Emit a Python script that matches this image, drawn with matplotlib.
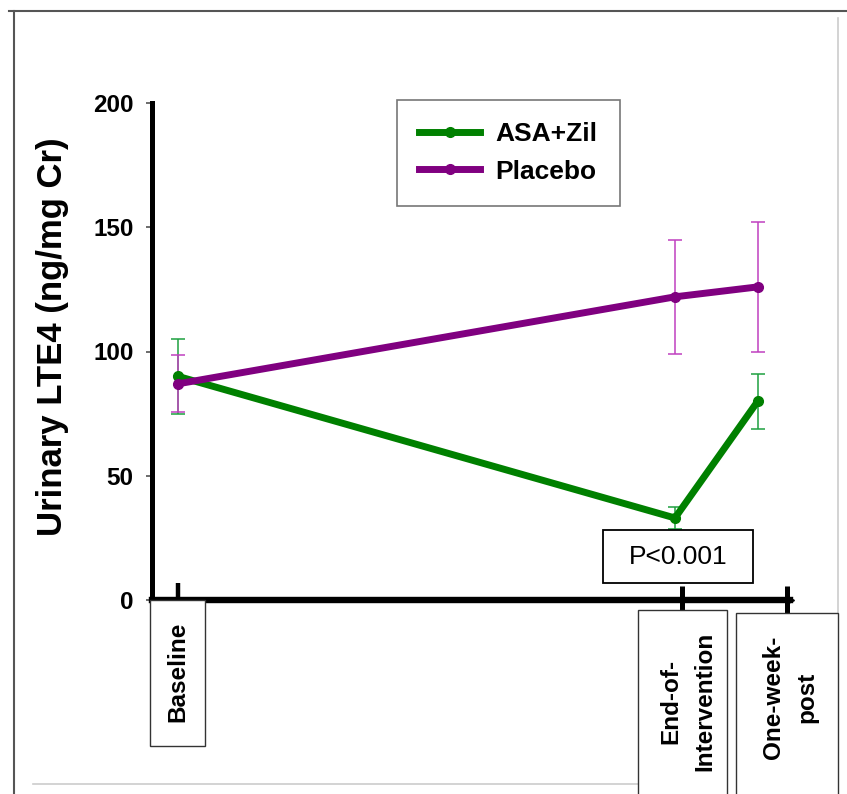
import matplotlib
matplotlib.use('Agg')

import matplotlib.pyplot as plt
from matplotlib.patches import Rectangle
from matplotlib.lines import Line2D

plt.rcParams['font.family'] = ['Liberation Sans', 'DejaVu Sans']

# data
timepoints = ['Baseline', 'End-of-\nIntervention', 'One-week-\npost']
x_pos = [0, 6, 7]
asa_zil_mean = [90, 33, 80]
asa_zil_err = [15, 4.5, 11]
placebo_mean = [87, 122, 126]
placebo_err = [11.5, 23, 26]
y_ticks = [0, 50, 100, 150, 200]

W, H = 847, 794
fig = plt.figure(figsize=(W / 100, H / 100), dpi=100)


def fx(px):
    return px / W


def fy(py):
    return 1 - py / H


# outer frame lines
fig.add_artist(Line2D([fx(9), 1], [fy(11), fy(11)], color='#555555', lw=1.5))
fig.add_artist(Line2D([fx(14), fx(14)], [fy(11), 0], color='#555555', lw=1.5))
fig.add_artist(Line2D([fx(838), fx(838)], [fy(18), fy(613)], color='#cccccc', lw=1.2))
fig.add_artist(Line2D([fx(33), fx(640)], [fy(784), fy(784)], color='#cccccc', lw=1.2))

ax = fig.add_axes([fx(152), fy(600), fx(790) - fx(152), fy(103) - fy(600)])

green, purple = '#008000', '#800080'
green_err, purple_err = '#1ea040', '#c040c0'

ax.errorbar(x_pos, asa_zil_mean, yerr=asa_zil_err, fmt='none', ecolor=green_err,
            elinewidth=1.1, capsize=4.7, capthick=1.1, zorder=2)
ax.errorbar(x_pos, placebo_mean, yerr=placebo_err, fmt='none', ecolor=purple_err,
            elinewidth=1.1, capsize=4.7, capthick=1.1, zorder=2)
ax.plot(x_pos, asa_zil_mean, '-o', color=green, lw=5, ms=7, label='ASA+Zil', zorder=3)
ax.plot(x_pos, placebo_mean, '-o', color=purple, lw=5, ms=7, label='Placebo', zorder=3)

ax.set_xlim(-0.314, 7.389)
ax.set_ylim(0, 200)

for s in ['top', 'right']:
    ax.spines[s].set_visible(False)
ax.spines['left'].set_linewidth(3.6)
ax.spines['bottom'].set_linewidth(4.6)
ax.plot(1, 0, '>', color='k', ms=6, transform=ax.transAxes, clip_on=False)

ax.set_yticks(y_ticks)
ax.set_yticklabels([str(v) for v in y_ticks], fontsize=17.5, fontweight='bold')
ax.tick_params(axis='y', length=4.3, width=1.1, color='#444444', pad=9)

ax.set_xticks([6.085, 7.35])
ax.set_xticklabels([])
ax.tick_params(axis='x', which='major', direction='inout', length=20, width=3.6)
ax.set_xticks([0], minor=True)
ax.tick_params(axis='x', which='minor', direction='in', length=12, width=3.2)

ax.set_ylabel('Urinary LTE4 (ng/mg Cr)', fontsize=25, fontweight='bold')
ax.yaxis.set_label_coords(-0.13, 0.53)

leg = ax.legend(loc='upper left', bbox_to_anchor=(fx(397), fy(100)),
                bbox_transform=fig.transFigure, prop={'weight': 'bold', 'size': 19},
                handlelength=2.3, handletextpad=0.57, labelspacing=0.5,
                borderpad=0.85, borderaxespad=0, fancybox=False, numpoints=1)
leg.get_frame().set_edgecolor('#555555')
leg.get_frame().set_linewidth(1.2)

# P-value box
fig.add_artist(Rectangle((fx(603), fy(583)), fx(150), 53 / H, facecolor='white',
                         edgecolor='black', lw=1.3, zorder=5))
fig.text(fx(678), fy(557), 'P<0.001', fontsize=19, ha='center', va='center', zorder=6)

# category label boxes
label_boxes = [
    (150, 600, 205, 746, 178, 672),
    (638, 610, 727, 800, 688, 701),
    (736, 613, 838, 800, 790, 697),
]
for name, (x0, y0, x1, y1, tx, ty) in zip(timepoints, label_boxes):
    fig.add_artist(Rectangle((fx(x0), fy(y1)), fx(x1 - x0), (y1 - y0) / H,
                             facecolor='white', edgecolor='#333333', lw=1.0, zorder=4))
    fig.text(fx(tx), fy(ty), name, rotation=90, fontsize=17.5, fontweight='bold',
             ha='center', va='center', ma='center', linespacing=1.6, zorder=6)

fig.savefig('out.png', dpi=100)
